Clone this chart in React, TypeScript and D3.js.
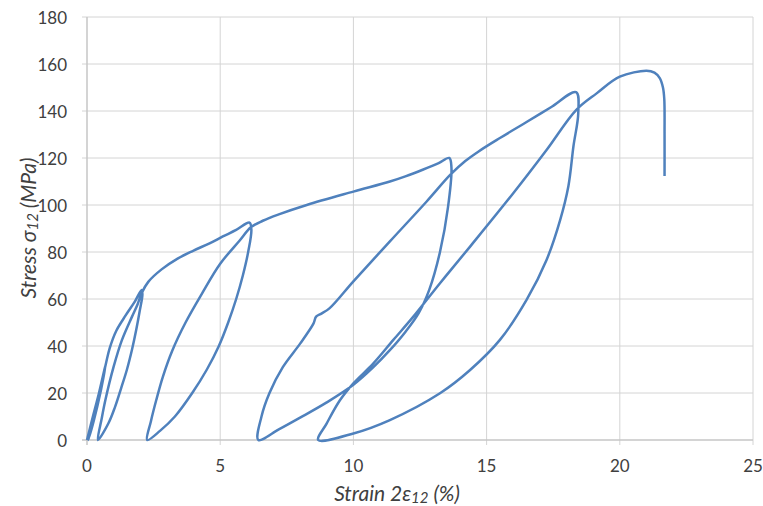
import React from "react";
import * as d3 from "d3";

// Strain 2ε12 (%) and stress σ12 (MPa), traced in order along the single curve
const strain: number[] = [
  // first loading with small loop
  0, 0.2, 0.45, 0.7, 0.5, 0.25, 0.05, 0.25, 0.5, 0.72, 0.85, 1.1, 1.45, 1.8, 2.05,
  // unload 2
  2.08, 1.98, 1.85, 1.69, 1.5, 1.28, 1.05, 0.8, 0.41,
  // reload 2 + envelope
  0.55, 0.69, 1.0, 1.31, 1.69, 1.9, 2.05, 2.3, 2.8, 3.4, 4.0, 4.6, 5.1, 5.6, 6.1,
  // unload 3
  6.17, 6.05, 5.85, 5.6, 5.3, 4.95, 4.5, 3.95, 3.3, 2.75, 2.26,
  // reload 3 + envelope
  2.4, 2.6, 2.85, 3.2, 3.7, 4.3, 5.0, 5.74, 6.15, 6.6, 7.2, 8.25, 10.0, 11.37, 11.95, 12.6, 13.2, 13.6,
  // unload 4
  13.68, 13.55, 13.25, 12.85, 12.45, 11.95, 11.35, 10.75, 10.0, 9.0, 8.0, 7.2, 6.43,
  // reload 4 + envelope
  6.55, 6.85, 7.35, 8.0, 8.5, 8.6, 8.8, 9.1, 10.0, 11.37, 12.75, 13.65, 14.2, 14.7, 15.5, 16.5, 17.4, 18.36,
  // unload 5
  18.44, 18.26, 18.07, 17.76, 17.25, 16.5, 15.5, 14.38, 13.25, 11.37, 10.0, 8.68,
  // reload 5 + final loading
  9.0, 9.5, 10.0, 10.75, 11.5, 12.25, 13.25, 14.38, 16.0, 17.25, 18.36, 19.13, 20.0, 21.0,
  21.3, 21.5, 21.62, 21.67, 21.68, 21.68,
];
const stress: number[] = [
  0, 9, 20, 32, 20, 8, 0, 10, 22, 33, 39, 46.5, 53, 59, 63.8,
  62, 55, 47, 38.5, 30, 22, 14, 7, 0,
  9, 17, 31.2, 42.5, 52.5, 57.8, 62.5, 67.3, 72.6, 77.2, 80.6, 83.7, 86.6, 89.4, 92.5,
  89.5, 80, 70, 60, 50, 40, 30, 20, 10, 4, 0,
  8, 17, 27, 38, 50, 62, 75, 85, 90.5, 93.3, 96, 100, 105.7, 110, 112.2, 115, 117.8, 120,
  116, 99, 80, 64, 54, 46, 38, 31, 23.5, 16, 9.5, 4.5, 0,
  10, 20, 31, 41, 49.5, 52.5, 53.8, 56, 67.5, 84.5, 101.5, 113, 118.7, 122.8, 128.5, 135.3, 141.5, 148,
  139, 125, 108, 93.6, 76.6, 59.6, 42.6, 29.8, 19.9, 8.5, 2.8, 0,
  7.1, 17, 24.1, 32.6, 42.6, 52.5, 66.7, 82.3, 105, 123.4, 140.4, 147.5, 154.6, 157.1,
  156.3, 154, 150, 145, 130, 112.3,
];

const xTicks: number[] = [0, 5, 10, 15, 20, 25];
const yTicks: number[] = [0, 20, 40, 60, 80, 100, 120, 140, 160, 180];

const W = 763;
const H = 506;
const FONT = "Lato, 'Open Sans', sans-serif";

export default function App() {
  const x = d3.scaleLinear().domain([0, 25]).range([87, 753]);
  const y = d3.scaleLinear().domain([0, 180]).range([440, 17]);
  const pts: [number, number][] = strain.map((s, i) => [s, stress[i]]);
  const line = d3
    .line<[number, number]>()
    .x((d) => x(d[0]))
    .y((d) => y(d[1]))
    .curve(d3.curveCatmullRom.alpha(0.5));
  const grid = "#d4d4d4";
  const textCol = "#404040";
  return (
    <svg
      width={W}
      height={H}
      style={{ position: "absolute", left: 0, top: 0, background: "#fff" }}
    >
      {yTicks.map((t) => (
        <g key={"y" + t}>
          <line x1={82} x2={x(25)} y1={y(t)} y2={y(t)} stroke={grid} strokeWidth={1} />
          <text
            x={67}
            y={y(t)}
            textAnchor="end"
            dominantBaseline="central"
            fontFamily={FONT}
            fontSize={17}
            fill={textCol}
          >
            {t}
          </text>
        </g>
      ))}
      {xTicks.map((t) => (
        <g key={"x" + t}>
          <line x1={x(t)} x2={x(t)} y1={y(180)} y2={445} stroke={grid} strokeWidth={1} />
          <text
            x={x(t)}
            y={465}
            textAnchor="middle"
            dominantBaseline="central"
            fontFamily={FONT}
            fontSize={17}
            fill={textCol}
          >
            {t}
          </text>
        </g>
      ))}
      <line x1={x(0)} x2={x(0)} y1={y(180)} y2={445} stroke="#bfbfbf" strokeWidth={1} />
      <line x1={82} x2={x(25)} y1={y(0)} y2={y(0)} stroke="#bfbfbf" strokeWidth={1} />
      <path d={line(pts) || ""} fill="none" stroke="#4f81bd" strokeWidth={2.5} strokeLinejoin="round" />
      <text
        x={397}
        y={492}
        textAnchor="middle"
        dominantBaseline="central"
        fontFamily={FONT}
        fontSize={21}
        fontStyle="italic"
        fill={textCol}
      >
        Strain 2ε
        <tspan fontSize={15} dy={5}>12</tspan>
        <tspan dy={-5}> (%)</tspan>
      </text>
      <text
        transform={`translate(27,228) rotate(-90)`}
        textAnchor="middle"
        dominantBaseline="central"
        fontFamily={FONT}
        fontSize={21}
        fontStyle="italic"
        fill={textCol}
      >
        Stress σ
        <tspan fontSize={15} dy={5}>12</tspan>
        <tspan dy={-5}> (MPa)</tspan>
      </text>
    </svg>
  );
}
